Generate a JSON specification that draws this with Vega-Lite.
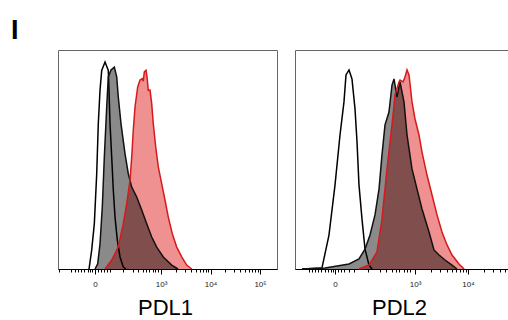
{
  "$schema": "https://vega.github.io/schema/vega-lite/v6.json",
  "padding": {"left": 11, "top": 16, "right": 0, "bottom": 0},
  "background": "white",
  "title": {"text": "I", "anchor": "start", "frame": "group", "font": "Liberation Sans", "fontSize": 27, "fontWeight": "bold", "color": "#000", "dx": -47, "offset": 5},
  "spacing": 16,
  "config": {
    "view": {"stroke": "#666", "strokeWidth": 1},
    "axis": {"domainColor": "#000", "domainWidth": 1, "tickColor": "#000", "tickWidth": 1, "labelFont": "Liberation Sans", "labelFontSize": 8, "labelColor": "#222", "labelPadding": 6, "titleFont": "Liberation Sans", "titleFontSize": 22, "titleFontWeight": "normal", "titleColor": "#000", "titlePadding": 9, "grid": false, "labelOverlap": false, "labelFlush": false}
  },
  "datasets": {
    "pdl1": [
      {"group": "control", "signal": 1.546, "count": 0},
      {"group": "control", "signal": 1.6, "count": 8.7},
      {"group": "control", "signal": 1.653, "count": 20.7},
      {"group": "control", "signal": 1.701, "count": 43.5},
      {"group": "control", "signal": 1.733, "count": 66.3},
      {"group": "control", "signal": 1.768, "count": 81.7},
      {"group": "control", "signal": 1.802, "count": 90.7},
      {"group": "control", "signal": 1.869, "count": 94.5},
      {"group": "control", "signal": 1.935, "count": 90.7},
      {"group": "control", "signal": 1.949, "count": 81.7},
      {"group": "control", "signal": 1.97, "count": 66.3},
      {"group": "control", "signal": 2.004, "count": 51.1},
      {"group": "control", "signal": 2.036, "count": 36.1},
      {"group": "control", "signal": 2.071, "count": 23.7},
      {"group": "control", "signal": 2.117, "count": 13.2},
      {"group": "control", "signal": 2.172, "count": 5.5},
      {"group": "control", "signal": 2.238, "count": 0.9},
      {"group": "control", "signal": 2.293, "count": 0},
      {"group": "gray", "signal": 1.667, "count": 0},
      {"group": "gray", "signal": 1.721, "count": 2.4},
      {"group": "gray", "signal": 1.768, "count": 11.6},
      {"group": "gray", "signal": 1.814, "count": 28.3},
      {"group": "gray", "signal": 1.855, "count": 51.1},
      {"group": "gray", "signal": 1.903, "count": 74.0},
      {"group": "gray", "signal": 1.935, "count": 87.7},
      {"group": "gray", "signal": 1.99, "count": 90.9},
      {"group": "gray", "signal": 2.057, "count": 92.2},
      {"group": "gray", "signal": 2.105, "count": 87.7},
      {"group": "gray", "signal": 2.137, "count": 78.5},
      {"group": "gray", "signal": 2.192, "count": 66.3},
      {"group": "gray", "signal": 2.273, "count": 52.6},
      {"group": "gray", "signal": 2.339, "count": 43.5},
      {"group": "gray", "signal": 2.408, "count": 37.4},
      {"group": "gray", "signal": 2.509, "count": 32.9},
      {"group": "gray", "signal": 2.61, "count": 26.9},
      {"group": "gray", "signal": 2.711, "count": 20.7},
      {"group": "gray", "signal": 2.812, "count": 14.6},
      {"group": "gray", "signal": 2.913, "count": 10.0},
      {"group": "gray", "signal": 3.046, "count": 5.5},
      {"group": "gray", "signal": 3.216, "count": 1.8},
      {"group": "gray", "signal": 3.343, "count": 0},
      {"group": "red", "signal": 1.869, "count": 0},
      {"group": "red", "signal": 2.004, "count": 4.1},
      {"group": "red", "signal": 2.137, "count": 10.0},
      {"group": "red", "signal": 2.238, "count": 20.7},
      {"group": "red", "signal": 2.307, "count": 29.8},
      {"group": "red", "signal": 2.374, "count": 40.6},
      {"group": "red", "signal": 2.408, "count": 51.1},
      {"group": "red", "signal": 2.44, "count": 63.5},
      {"group": "red", "signal": 2.475, "count": 74.0},
      {"group": "red", "signal": 2.529, "count": 83.1},
      {"group": "red", "signal": 2.576, "count": 86.3},
      {"group": "red", "signal": 2.622, "count": 86.9},
      {"group": "red", "signal": 2.642, "count": 85.8},
      {"group": "red", "signal": 2.663, "count": 90.0},
      {"group": "red", "signal": 2.697, "count": 90.7},
      {"group": "red", "signal": 2.717, "count": 87.7},
      {"group": "red", "signal": 2.743, "count": 81.6},
      {"group": "red", "signal": 2.778, "count": 81.7},
      {"group": "red", "signal": 2.812, "count": 75.5},
      {"group": "red", "signal": 2.844, "count": 66.3},
      {"group": "red", "signal": 2.893, "count": 55.7},
      {"group": "red", "signal": 2.945, "count": 46.6},
      {"group": "red", "signal": 3.014, "count": 38.9},
      {"group": "red", "signal": 3.081, "count": 31.4},
      {"group": "red", "signal": 3.147, "count": 23.7},
      {"group": "red", "signal": 3.228, "count": 16.1},
      {"group": "red", "signal": 3.317, "count": 10.0},
      {"group": "red", "signal": 3.418, "count": 5.5},
      {"group": "red", "signal": 3.519, "count": 1.8},
      {"group": "red", "signal": 3.62, "count": 0}
    ],
    "pdl2": [
      {"group": "control", "signal": 0.868, "count": 0},
      {"group": "control", "signal": 1.245, "count": 0.5},
      {"group": "control", "signal": 1.377, "count": 15.5},
      {"group": "control", "signal": 1.491, "count": 38.4},
      {"group": "control", "signal": 1.585, "count": 61.2},
      {"group": "control", "signal": 1.66, "count": 76.3},
      {"group": "control", "signal": 1.698, "count": 88.6},
      {"group": "control", "signal": 1.755, "count": 90.9},
      {"group": "control", "signal": 1.811, "count": 86.8},
      {"group": "control", "signal": 1.868, "count": 73.1},
      {"group": "control", "signal": 1.906, "count": 58.0},
      {"group": "control", "signal": 1.943, "count": 38.4},
      {"group": "control", "signal": 2.0, "count": 22.8},
      {"group": "control", "signal": 2.057, "count": 9.1},
      {"group": "control", "signal": 2.132, "count": 1.8},
      {"group": "control", "signal": 2.189, "count": 0},
      {"group": "gray", "signal": 0.868, "count": 0},
      {"group": "gray", "signal": 1.302, "count": 0.5},
      {"group": "gray", "signal": 1.755, "count": 2.3},
      {"group": "gray", "signal": 1.943, "count": 4.6},
      {"group": "gray", "signal": 2.057, "count": 9.1},
      {"group": "gray", "signal": 2.151, "count": 15.5},
      {"group": "gray", "signal": 2.245, "count": 24.7},
      {"group": "gray", "signal": 2.321, "count": 36.5},
      {"group": "gray", "signal": 2.377, "count": 52.1},
      {"group": "gray", "signal": 2.434, "count": 65.8},
      {"group": "gray", "signal": 2.509, "count": 71.7},
      {"group": "gray", "signal": 2.566, "count": 84.0},
      {"group": "gray", "signal": 2.604, "count": 86.8},
      {"group": "gray", "signal": 2.66, "count": 78.5},
      {"group": "gray", "signal": 2.717, "count": 85.4},
      {"group": "gray", "signal": 2.792, "count": 76.3},
      {"group": "gray", "signal": 2.849, "count": 61.2},
      {"group": "gray", "signal": 2.943, "count": 45.7},
      {"group": "gray", "signal": 3.038, "count": 36.5},
      {"group": "gray", "signal": 3.132, "count": 27.4},
      {"group": "gray", "signal": 3.264, "count": 16.9},
      {"group": "gray", "signal": 3.358, "count": 8.7},
      {"group": "gray", "signal": 3.453, "count": 6.4},
      {"group": "gray", "signal": 3.566, "count": 4.1},
      {"group": "gray", "signal": 3.698, "count": 1.8},
      {"group": "gray", "signal": 3.792, "count": 0},
      {"group": "red", "signal": 1.943, "count": 0},
      {"group": "red", "signal": 2.132, "count": 1.8},
      {"group": "red", "signal": 2.283, "count": 7.8},
      {"group": "red", "signal": 2.377, "count": 22.8},
      {"group": "red", "signal": 2.472, "count": 45.7},
      {"group": "red", "signal": 2.566, "count": 65.8},
      {"group": "red", "signal": 2.623, "count": 79.5},
      {"group": "red", "signal": 2.698, "count": 85.4},
      {"group": "red", "signal": 2.717, "count": 86.3},
      {"group": "red", "signal": 2.774, "count": 85.4},
      {"group": "red", "signal": 2.811, "count": 87.7},
      {"group": "red", "signal": 2.849, "count": 90.9},
      {"group": "red", "signal": 2.887, "count": 88.6},
      {"group": "red", "signal": 2.943, "count": 76.3},
      {"group": "red", "signal": 3.0, "count": 68.5},
      {"group": "red", "signal": 3.075, "count": 61.2},
      {"group": "red", "signal": 3.132, "count": 53.4},
      {"group": "red", "signal": 3.226, "count": 42.9},
      {"group": "red", "signal": 3.321, "count": 33.8},
      {"group": "red", "signal": 3.415, "count": 24.7},
      {"group": "red", "signal": 3.509, "count": 16.9},
      {"group": "red", "signal": 3.604, "count": 11.0},
      {"group": "red", "signal": 3.698, "count": 6.4},
      {"group": "red", "signal": 3.83, "count": 2.3},
      {"group": "red", "signal": 3.925, "count": 0}
    ]
  },
  "hconcat": [
    {
      "width": 219,
      "height": 219,
      "data": {"name": "pdl1"},
      "encoding": {
        "x": {"field": "signal", "type": "quantitative", "scale": {"domain": [0.919, 5.343], "nice": false, "zero": false},
          "axis": {"title": "PDL1", "titleX": 107,
            "values": [0.939, 1.182, 1.263, 1.323, 1.384, 1.444, 1.525, 1.566, 1.606, 1.667, 1.727, 1.788, 1.848, 1.909, 1.97, 2.232, 2.434, 2.535, 2.636, 2.697, 2.758, 2.828, 2.879, 2.929, 3, 3.301, 3.477, 3.602, 3.699, 3.778, 3.845, 3.903, 3.954, 4, 4.301, 4.477, 4.602, 4.699, 4.778, 4.845, 4.903, 4.954, 5],
            "labelExpr": "datum.value == 3 ? '10³' : datum.value == 4 ? '10⁴' : datum.value == 5 ? '10⁵' : datum.value == 1.667 ? '0' : ''",
            "tickSize": {"condition": {"test": "indexof([1.667, 3, 4, 5], datum.value) >= 0", "value": 5}, "value": 3}}},
        "y": {"field": "count", "type": "quantitative", "scale": {"domain": [0, 100], "nice": false}, "axis": null}
      },
      "layer": [
        {"transform": [{"filter": "datum.group == 'red'"}], "mark": {"type": "area", "color": "#ef9191", "opacity": 1}},
        {"transform": [{"filter": "datum.group == 'gray'"}], "mark": {"type": "area", "color": "#000", "opacity": 0.46}},
        {"mark": {"type": "line", "strokeWidth": 1.5}, "encoding": {"color": {"field": "group", "type": "nominal", "scale": {"domain": ["control", "gray", "red"], "range": ["#000000", "#111111", "#d7191c"]}, "legend": null}}}
      ]
    },
    {
      "width": 245,
      "height": 219,
      "data": {"name": "pdl2"},
      "encoding": {
        "x": {"field": "signal", "type": "quantitative", "scale": {"domain": [0.736, 5.358], "nice": false, "zero": false},
          "axis": {"title": "PDL2", "titleX": 104,
            "values": [1.0, 1.057, 1.113, 1.17, 1.226, 1.302, 1.358, 1.415, 1.453, 1.491, 1.547, 1.604, 1.66, 1.755, 1.849, 2.111, 2.342, 2.457, 2.57, 2.638, 2.706, 2.787, 2.843, 2.902, 3, 3.301, 3.477, 3.602, 3.699, 3.778, 3.845, 3.903, 3.954, 4, 4.301, 4.477, 4.602, 4.699, 4.778, 4.845, 4.903, 4.954, 5],
            "labelExpr": "datum.value == 3 ? '10³' : datum.value == 4 ? '10⁴' : datum.value == 1.491 ? '0' : ''",
            "tickSize": {"condition": {"test": "indexof([1.491, 3, 4, 5], datum.value) >= 0", "value": 5}, "value": 3}}},
        "y": {"field": "count", "type": "quantitative", "scale": {"domain": [0, 100], "nice": false}, "axis": null}
      },
      "layer": [
        {"transform": [{"filter": "datum.group == 'red'"}], "mark": {"type": "area", "color": "#ef9191", "opacity": 1}},
        {"transform": [{"filter": "datum.group == 'gray'"}], "mark": {"type": "area", "color": "#000", "opacity": 0.46}},
        {"mark": {"type": "line", "strokeWidth": 1.5}, "encoding": {"color": {"field": "group", "type": "nominal", "scale": {"domain": ["control", "gray", "red"], "range": ["#000000", "#111111", "#d7191c"]}, "legend": null}}}
      ]
    }
  ]
}
